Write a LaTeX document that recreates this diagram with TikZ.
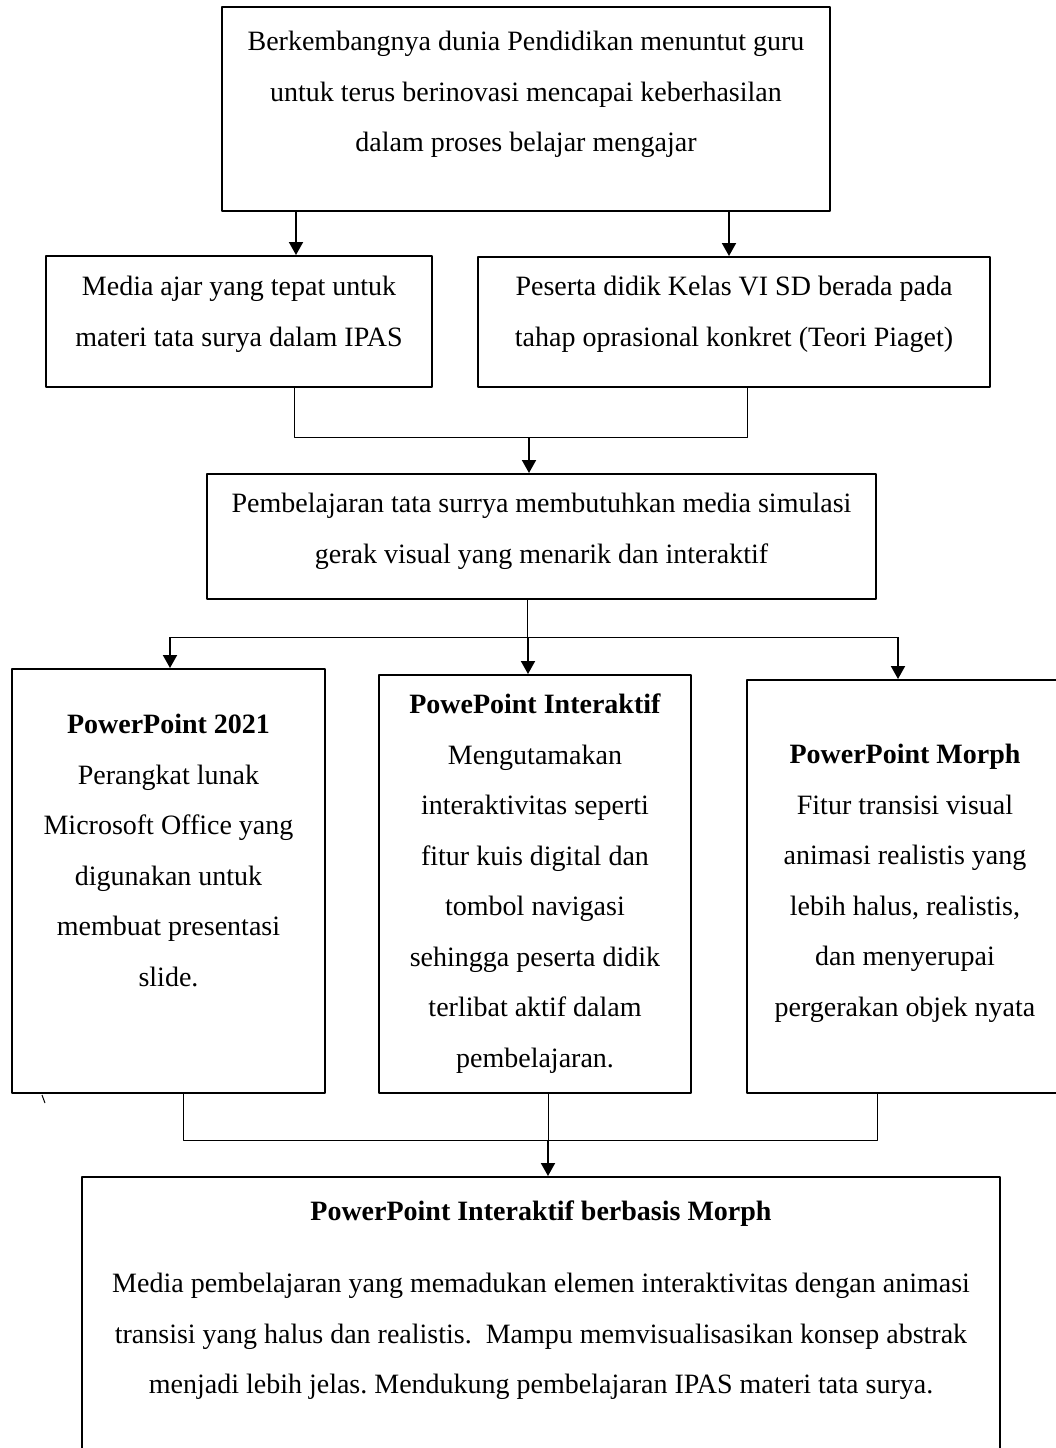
\documentclass[tikz,border=0pt]{standalone}
\usepackage{fontspec}
\setmainfont{Liberation Serif}
\usetikzlibrary{arrows.meta}
\tikzset{
  box/.style={draw,line width=1pt,inner sep=0pt},
  txt/.style={anchor=north,inner sep=0pt,align=center,
    font=\fontsize{14}{25.25}\selectfont\frenchspacing},
  link/.style={line width=0.5pt},
  arr/.style={line width=0.95pt,->},
}
\begin{document}
\begin{tikzpicture}[x=0.5pt,y=-0.5pt,line join=round,>={Triangle[length=6.5pt,width=7pt]}]
  \useasboundingbox (0,0) rectangle (1056,1448);

  \node[box,minimum width=304pt,minimum height=102pt] (top) at (526,109) {};
  \node[box,minimum width=193pt,minimum height=65.5pt] (ajar) at (239,321.5) {};
  \node[box,minimum width=256pt,minimum height=65pt] (siswa) at (734,322) {};
  \node[box,minimum width=334.5pt,minimum height=62.5pt] (butuh) at (541.5,536.5) {};
  \node[box,minimum width=156.5pt,minimum height=212pt] (ppt) at (168.5,881) {};
  \node[box,minimum width=156pt,minimum height=209pt] (inter) at (535,884) {};
  \node[box,minimum width=158pt,minimum height=206.5pt] (morph) at (905,886.5) {};
  \node[box,minimum width=459pt,minimum height=146.5pt] (hasil) at (541,1323.5) {};

  \node[txt] (topT) at (526,15) {\strut Berkembangnya dunia Pendidikan menuntut guru\\
    untuk terus berinovasi mencapai keberhasilan\\dalam proses belajar mengajar};
  \node[txt] (ajarT) at (239,260) {\strut Media ajar yang tepat untuk\\materi tata surya dalam IPAS};
  \node[txt] (siswaT) at (734,260) {\strut Peserta didik Kelas VI SD berada pada\\
    tahap oprasional konkret (Teori Piaget)};
  \node[txt] (butuhT) at (541.5,477) {\strut Pembelajaran tata surrya membutuhkan media simulasi\\
    gerak visual yang menarik dan interaktif};
  \node[txt] (pptT) at (168.5,698) {\strut\textbf{PowerPoint 2021}\\Perangkat lunak\\
    Microsoft Office yang\\digunakan untuk\\membuat presentasi\\slide.};
  \node[txt] (interT) at (535,678) {\strut\textbf{PowePoint Interaktif}\\Mengutamakan\\
    interaktivitas seperti\\fitur kuis digital dan\\tombol navigasi\\
    sehingga peserta didik\\terlibat aktif dalam\\pembelajaran.};
  \node[txt] (morphT) at (905,728) {\strut\textbf{PowerPoint Morph}\\Fitur transisi visual\\
    animasi realistis yang\\lebih halus, realistis,\\dan menyerupai\\pergerakan objek nyata};
  \node[txt] (hasilT) at (541,1185) {\strut\textbf{PowerPoint Interaktif berbasis Morph}\\[10.75pt]
    Media pembelajaran yang memadukan elemen interaktivitas dengan animasi\\
    transisi yang halus dan realistis.~ Mampu memvisualisasikan konsep abstrak\\
    menjadi lebih jelas. Mendukung pembelajaran IPAS materi tata surya.};

  \coordinate (a1) at (296,0);
  \coordinate (a2) at (729,0);
  \coordinate (b1) at (294,0);
  \coordinate (b2) at (747,0);
  \coordinate (jC) at (529,437);
  \coordinate (jD) at (527,637);
  \coordinate (d1) at (170,0);
  \coordinate (d2) at (528,0);
  \coordinate (d3) at (898,0);
  \coordinate (e1) at (183,0);
  \coordinate (e3) at (877,0);
  \coordinate (jE) at (548,1140);

  \draw[arr] (top.south -| a1) -- (ajar.north -| a1);
  \draw[arr] (top.south -| a2) -- (siswa.north -| a2);

  \draw[link] (ajar.south -| b1) |- (jC) -| (siswa.south -| b2);
  \draw[arr] (jC) -- (butuh.north -| jC);

  \draw[link] (butuh.south -| jD) -- (jD);
  \draw[link] (jD -| d1) -- (jD -| d3);
  \draw[arr] (jD -| d1) -- (ppt.north -| d1);
  \draw[arr] (jD -| d2) -- (inter.north -| d2);
  \draw[arr] (jD -| d3) -- (morph.north -| d3);

  \draw[link] (ppt.south -| e1) |- (jE) -| (morph.south -| e3);
  \draw[link] (inter.south -| jE) -- (jE);
  \draw[arr] (jE) -- (hasil.north -| jE);

  \draw[link] (42,1095) -- (45,1103);
\end{tikzpicture}
\end{document}
